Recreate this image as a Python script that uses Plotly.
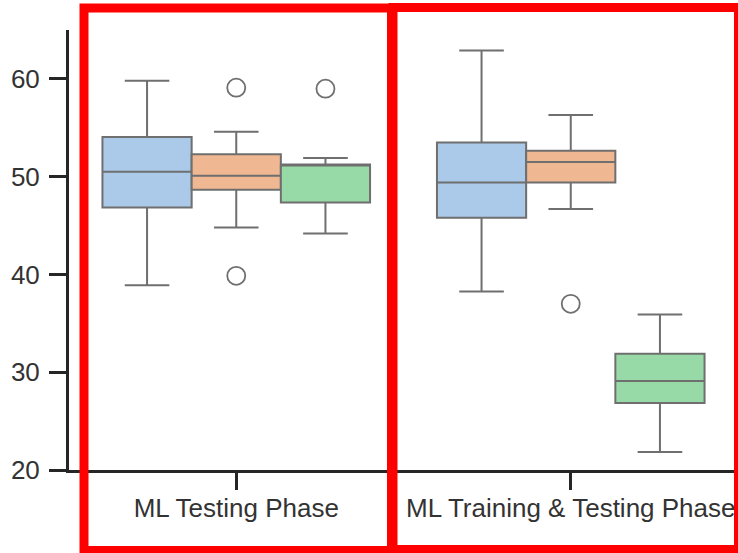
import plotly.graph_objects as go

# Categories on the x axis
phases = ["ML Testing Phase", "ML Training & Testing Phase"]

# Box statistics per series (one value per phase)
s1_lower = [38.9, 38.25]
s1_q1 = [46.85, 45.8]
s1_median = [50.5, 49.4]
s1_q3 = [54.05, 53.5]
s1_upper = [59.8, 62.9]
s1_outliers = [[], []]

s2_lower = [44.8, 46.7]
s2_q1 = [48.65, 49.4]
s2_median = [50.1, 51.5]
s2_q3 = [52.3, 52.65]
s2_upper = [54.6, 56.3]
s2_outliers = [[59.1, 39.86], [37.0]]

s3_lower = [44.2, 21.84]
s3_q1 = [47.36, 26.86]
s3_median = [51.15, 29.1]
s3_q3 = [51.25, 31.9]
s3_upper = [51.9, 35.9]
s3_outliers = [[59.0], []]

y_ticks = [20, 30, 40, 50, 60]

series = [
    ("Series 1", "#abc9e9", s1_lower, s1_q1, s1_median, s1_q3, s1_upper, s1_outliers),
    ("Series 2", "#efb792", s2_lower, s2_q1, s2_median, s2_q3, s2_upper, s2_outliers),
    ("Series 3", "#98daa7", s3_lower, s3_q1, s3_median, s3_q3, s3_upper, s3_outliers),
]

line_gray = "#6f6f6f"
ink = "#333333"
group_width = 0.8
box_w = group_width / len(series)

fig = go.Figure()
for k, (name, color, lo, q1, med, q3, up, outl) in enumerate(series):
    offset = -group_width / 2 + box_w * (k + 0.5)
    xs = [i + offset for i in range(len(phases))]
    fig.add_trace(go.Box(
        name=name, x=xs, q1=q1, median=med, q3=q3,
        lowerfence=lo, upperfence=up,
        width=box_w, whiskerwidth=0.5,
        fillcolor=color, line=dict(color=line_gray, width=2),
        boxpoints=False, showlegend=False,
    ))
    ox, oy = [], []
    for i, vals in enumerate(outl):
        for v in vals:
            ox.append(i + offset)
            oy.append(v)
    if ox:
        fig.add_trace(go.Scatter(
            x=ox, y=oy, mode="markers", showlegend=False,
            marker=dict(symbol="circle-open", size=18, color=line_gray,
                        line=dict(width=1.8, color=line_gray)),
        ))

# Plot-area geometry (pixels) for placing the highlight frames
L, R, T, B, W, H = 69, 0, 30, 83, 738, 553
pw, ph = W - L - R, H - T - B


def px_x(p):
    return (p - L) / pw


def px_y(p):
    return (H - B - p) / ph


frames = [(84, 391.5, 8, 550.5), (393, 738.5, 7.5, 549.5)]
for x0, x1, y0, y1 in frames:
    fig.add_shape(type="rect", xref="paper", yref="paper",
                  x0=px_x(x0), x1=px_x(x1), y0=px_y(y1), y1=px_y(y0),
                  line=dict(color="#ff0000", width=9), fillcolor="rgba(0,0,0,0)",
                  layer="above")

fig.update_layout(
    width=W, height=H,
    margin=dict(l=L, r=R, t=T, b=B, pad=0),
    paper_bgcolor="white", plot_bgcolor="white",
    boxmode="overlay",
    font=dict(family="Liberation Sans, Arial, sans-serif", size=26, color=ink),
)
fig.update_xaxes(
    range=[-0.5, 1.5], tickvals=list(range(len(phases))), ticktext=phases,
    showline=True, linecolor="#262626", linewidth=3,
    ticks="outside", ticklen=17, tickwidth=3, tickcolor="#262626",
    showgrid=False, zeroline=False, tickfont=dict(size=26, color=ink),
    ticklabelstandoff=-4,
)
fig.update_yaxes(
    range=[20, 65], tickvals=y_ticks,
    showline=True, linecolor="#262626", linewidth=3,
    ticks="outside", ticklen=17, tickwidth=3, tickcolor="#262626",
    showgrid=False, zeroline=False, tickfont=dict(size=26, color=ink),
    ticklabelstandoff=4,
)

fig.write_html("out.html")
